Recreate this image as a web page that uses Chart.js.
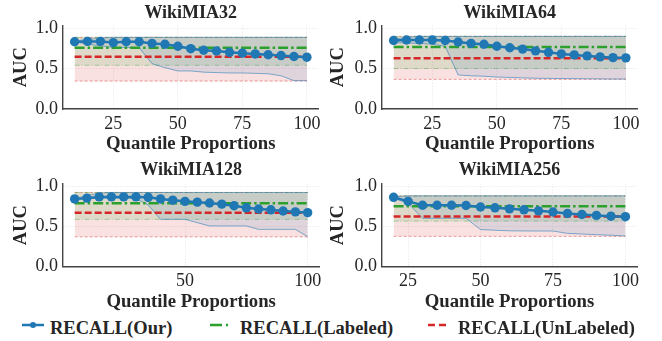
<!DOCTYPE html>
<html>
<head>
<meta charset="utf-8">
<script src="https://cdn.jsdelivr.net/npm/chart.js@4.4.0/dist/chart.umd.min.js"></script>
<style>
  body { margin: 0; background: #fff; width: 662px; height: 341px; position: relative; overflow: hidden;
         font-family: "Liberation Serif", "Times New Roman", serif; }
  canvas { position: absolute; }
  .leg { position: absolute; top: 317px; font-weight: bold; font-size: 18.5px; line-height: 22px; color: #262626; white-space: nowrap; }
  svg { position: absolute; }
</style>
</head>
<body>
<canvas id="c32" width="331" height="155" style="left:0;top:0"></canvas>
<canvas id="c64" width="343" height="155" style="left:319px;top:0"></canvas>
<canvas id="c128" width="331" height="153" style="left:0;top:160px"></canvas>
<canvas id="c256" width="343" height="153" style="left:319px;top:160px"></canvas>

<svg style="left:20px;top:317px" width="26" height="16"><line x1="2" y1="8" x2="24" y2="8" stroke="#1f77b4" stroke-width="2.5"/><circle cx="13" cy="8" r="3" fill="#1f77b4"/></svg>
<span class="leg" style="left:50px">RECALL(Our)</span>
<svg style="left:208px;top:317px" width="26" height="16"><line x1="2" y1="8" x2="24" y2="8" stroke="#2ca02c" stroke-width="2.5" stroke-dasharray="12,4,2,6"/></svg>
<span class="leg" style="left:240px">RECALL(Labeled)</span>
<svg style="left:426px;top:317px" width="24" height="16"><line x1="2" y1="8" x2="22" y2="8" stroke="#d62728" stroke-width="2.5" stroke-dasharray="7,4"/></svg>
<span class="leg" style="left:458px">RECALL(UnLabeled)</span>

<script>
// quantile proportions (x) for each subset
const x32 = [10, 15, 20, 25, 30, 35, 40, 45, 50, 55, 60, 65, 70, 75, 80, 85, 90, 95, 100];
const x64 = [10, 15, 20, 25, 30, 35, 40, 45, 50, 55, 60, 65, 70, 75, 80, 85, 90, 95, 100];
const x128 = [5, 10, 15, 20, 25, 30, 35, 40, 45, 50, 55, 60, 65, 70, 75, 80, 85, 90, 95, 100];
const x256 = [20, 25, 30, 35, 40, 45, 50, 55, 60, 65, 70, 75, 80, 85, 90, 95, 100];

// RECALL(Our) AUC
const recall32 = [0.83, 0.835, 0.835, 0.82, 0.83, 0.83, 0.81, 0.80, 0.775, 0.745, 0.725, 0.716, 0.70, 0.69, 0.68, 0.67, 0.66, 0.648, 0.64];
const recall64 = [0.846, 0.852, 0.852, 0.852, 0.846, 0.827, 0.81, 0.80, 0.775, 0.757, 0.74, 0.718, 0.70, 0.68, 0.668, 0.656, 0.644, 0.634, 0.632];
const recall128 = [0.84, 0.85, 0.865, 0.865, 0.865, 0.865, 0.86, 0.84, 0.825, 0.81, 0.80, 0.79, 0.775, 0.755, 0.73, 0.715, 0.705, 0.69, 0.68, 0.67];
const recall256 = [0.86, 0.81, 0.762, 0.762, 0.762, 0.758, 0.74, 0.73, 0.717, 0.705, 0.692, 0.678, 0.66, 0.647, 0.636, 0.626, 0.62];

// spread of RECALL(Our) (min / max)
const recallLow32 = [0.83, 0.80, 0.78, 0.76, 0.76, 0.76, 0.56, 0.51, 0.47, 0.47, 0.455, 0.45, 0.445, 0.445, 0.44, 0.435, 0.41, 0.35, 0.35];
const recallHigh32 = [0.84, 0.86, 0.875, 0.885, 0.885, 0.885, 0.885, 0.885, 0.885, 0.885, 0.885, 0.885, 0.885, 0.885, 0.885, 0.885, 0.885, 0.885, 0.885];
const recallLow64 = [0.82, 0.815, 0.81, 0.80, 0.775, 0.42, 0.41, 0.405, 0.395, 0.39, 0.385, 0.38, 0.378, 0.376, 0.375, 0.373, 0.372, 0.37, 0.37];
const recallHigh64 = [0.86, 0.885, 0.897, 0.897, 0.897, 0.897, 0.897, 0.897, 0.897, 0.897, 0.897, 0.897, 0.897, 0.897, 0.897, 0.897, 0.897, 0.897, 0.897];
const recallLow128 = [0.84, 0.845, 0.85, 0.85, 0.85, 0.845, 0.765, 0.587, 0.587, 0.587, 0.546, 0.505, 0.505, 0.505, 0.505, 0.463, 0.463, 0.463, 0.463, 0.372];
const recallHigh128 = [0.845, 0.88, 0.915, 0.92, 0.92, 0.92, 0.92, 0.92, 0.92, 0.92, 0.92, 0.92, 0.92, 0.92, 0.92, 0.92, 0.92, 0.92, 0.92, 0.92];
const recallLow256 = [0.85, 0.785, 0.60, 0.60, 0.60, 0.60, 0.46, 0.452, 0.445, 0.443, 0.442, 0.442, 0.413, 0.405, 0.397, 0.39, 0.38];
const recallHigh256 = [0.865, 0.878, 0.878, 0.878, 0.878, 0.878, 0.878, 0.878, 0.878, 0.878, 0.878, 0.878, 0.878, 0.878, 0.878, 0.878, 0.878];

// baselines per subset: [32, 64, 128, 256]
const labeledMean = [0.755, 0.765, 0.785, 0.748];
const labeledLow = [0.54, 0.50, 0.587, 0.565];
const labeledHigh = [0.885, 0.897, 0.92, 0.878];
const unlabeledMean = [0.645, 0.628, 0.669, 0.622];
const unlabeledLow = [0.345, 0.366, 0.37, 0.376];
const unlabeledHigh = [0.885, 0.897, 0.92, 0.878];

const titles = ['WikiMIA32', 'WikiMIA64', 'WikiMIA128', 'WikiMIA256'];
const xTicks = [[25, 50, 75, 100], [25, 50, 75, 100], [50, 100], [25, 50, 75, 100]];
const yTicks = [0, 0.5, 1.0];

const BLUE = '#1f77b4', GREEN = '#2ca02c', RED = '#d62728';
const FONT = '"Liberation Serif", "Times New Roman", serif';
const TXT = '#262626';

function drawPanel(id, i, xs, rec, low, high, lay) {
  const pts = ys => xs.map((x, k) => ({x: x, y: ys[k]}));
  const flat = v => [{x: xs[0], y: v}, {x: xs[xs.length - 1], y: v}];
  const thin = {pointRadius: 0, borderWidth: 1, tension: 0};
  new Chart(document.getElementById(id), {
    type: 'line',
    data: {
      datasets: [
        {data: pts(rec), borderColor: BLUE, backgroundColor: BLUE, borderWidth: 2.5,
         pointRadius: 4.7, pointBorderWidth: 0, fill: false, tension: 0},
        {data: flat(labeledMean[i]), borderColor: GREEN, borderWidth: 2.5, borderDash: [10, 3, 2.5, 3], pointRadius: 0, fill: false},
        {data: flat(unlabeledMean[i]), borderColor: RED, borderWidth: 2.5, borderDash: [7, 3], pointRadius: 0, fill: false},
        {...thin, data: pts(high), borderColor: 'rgba(31,119,180,0.5)', fill: false},
        {...thin, data: pts(low), borderColor: 'rgba(31,119,180,0.55)', fill: '-1', backgroundColor: 'rgba(31,119,180,0.12)'},
        {...thin, data: flat(labeledHigh[i]), borderColor: 'rgba(44,160,44,0.4)', borderDash: [5, 2, 1, 2], fill: false},
        {...thin, data: flat(labeledLow[i]), borderColor: 'rgba(44,160,44,0.4)', borderDash: [5, 2, 1, 2], fill: '-1', backgroundColor: 'rgba(44,160,44,0.13)'},
        {...thin, data: flat(unlabeledHigh[i]), borderColor: 'rgba(214,39,40,0.4)', borderDash: [3, 2], fill: false},
        {...thin, data: flat(unlabeledLow[i]), borderColor: 'rgba(214,39,40,0.45)', borderDash: [3, 2], fill: '-1', backgroundColor: 'rgba(214,39,40,0.14)'}
      ]
    },
    options: {
      responsive: false,
      animation: false,
      layout: {padding: {left: 0, right: lay.right, top: 0, bottom: 0}},
      plugins: {
        legend: {display: false},
        tooltip: {enabled: false},
        title: {display: true, text: titles[i], fullSize: false, color: TXT,
                font: {family: FONT, size: 18, weight: 'bold'}, padding: lay.titlePad}
      },
      scales: {
        x: {
          type: 'linear', min: lay.xmin, max: lay.xmax,
          afterBuildTicks: s => { s.ticks = xTicks[i].map(v => ({value: v})); },
          afterFit: s => { s.height = lay.xh; s.paddingLeft = 0; s.paddingRight = 0; },
          ticks: {font: {family: FONT, size: 18}, color: TXT, padding: 4, maxRotation: 0},
          grid: {drawTicks: false, color: '#e3e3e3', lineWidth: 1},
          border: {color: '#444', width: 1.4, dash: [1, 2]},
          title: {display: true, text: 'Quantile Proportions', color: TXT,
                  font: {family: FONT, size: 18.7, weight: 'bold'}, padding: {top: 0, bottom: 0}}
        },
        y: {
          min: 0, max: 1.03,
          afterBuildTicks: s => { s.ticks = yTicks.map(v => ({value: v})); },
          afterFit: s => { s.width = 63; s.paddingTop = 0; s.paddingBottom = 0; },
          ticks: {font: {family: FONT, size: 18}, color: TXT, padding: 5, callback: v => v.toFixed(1)},
          grid: {drawTicks: false, color: '#e3e3e3', lineWidth: 1},
          border: {color: '#444', width: 1.4, dash: [1, 2]},
          title: {display: true, text: 'AUC', color: TXT,
                  font: {family: FONT, size: 18.5, weight: 'bold'}, padding: {top: lay.yPad, bottom: 0}}
        }
      }
    }
  });
}

drawPanel('c32', 0, x32, recall32, recallLow32, recallHigh32,
  {right: 331 - 318.5, xmin: 5.5, xmax: 104.5, xh: 46, titlePad: {top: 3, bottom: 1}, yPad: 10});
drawPanel('c64', 1, x64, recall64, recallLow64, recallHigh64,
  {right: 343 - 318.5, xmin: 5.5, xmax: 104.5, xh: 46, titlePad: {top: 3, bottom: 1}, yPad: 8});
drawPanel('c128', 2, x128, recall128, recallLow128, recallHigh128,
  {right: 331 - 319.3, xmin: 0.25, xmax: 104.75, xh: 46.3, titlePad: {top: 0, bottom: 2}, yPad: 10});
drawPanel('c256', 3, x256, recall256, recallLow256, recallHigh256,
  {right: 343 - 318, xmin: 16, xmax: 104, xh: 46.3, titlePad: {top: 0, bottom: 2}, yPad: 8});
</script>
</body>
</html>
